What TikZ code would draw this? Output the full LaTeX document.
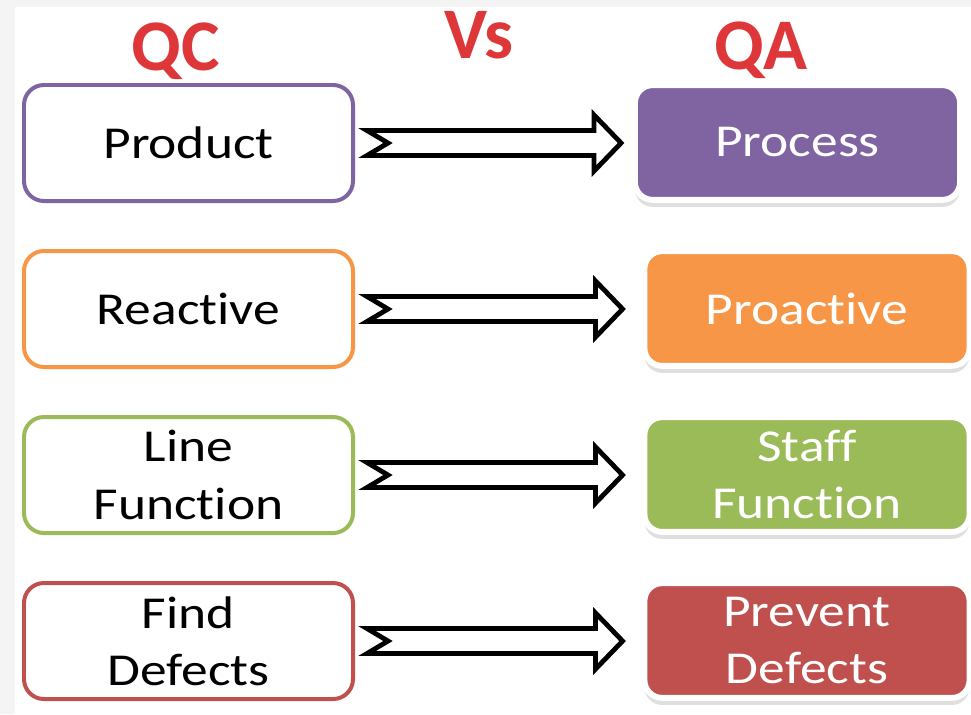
\documentclass[tikz,border=0pt]{standalone}
\usepackage{fontspec}
\usepackage{tikz}
\usetikzlibrary{calc, shadows}
\newfontfamily\boxfont[FakeStretch=1.17, Ligatures={CommonOff, ContextualOff, RequiredOff}]{Carlito}
\newfontfamily\headfont{Carlito}
\definecolor{qcpurple}{RGB}{128,100,162}
\definecolor{qcorange}{RGB}{247,150,70}
\definecolor{qcgreen}{RGB}{155,187,89}
\definecolor{qcred}{RGB}{192,80,77}
\definecolor{headred}{RGB}{222,55,58}
\tikzstyle{heading} = [anchor = base, text = headred, font = \headfont\bfseries\fontsize{62}{70}\selectfont]
\tikzstyle{qcbox} = [rectangle, rounded corners = 17pt, minimum width = 9.87cm, minimum height = 3.48cm, inner sep = 0pt, align = center, line width = 3.4pt, fill = white, text = black, font = \boxfont\fontsize{39}{49}\selectfont]
\tikzstyle{qabox} = [rectangle, rounded corners = 15pt, minimum width = 9.75cm, minimum height = 3.44cm, inner sep = 0pt, align = center, line width = 5pt, draw = white, text = white, drop shadow = {shadow xshift = 0pt, shadow yshift = -6pt, opacity = 0.25}, font = \boxfont\fontsize{39}{49}\selectfont]
\tikzstyle{fatline} = [line width = 4.1pt, line join = miter, draw = black, fill = white]
% hollow arrow with notched tail, from #1 to #2, #3 = gap before #2
\newcommand\hollowarrow[3]{%
    \coordinate (tl) at ($(#1.east)+(12,0)$);
    \coordinate (tp0) at ($(#2.west)+(-#3,0)$);
    \coordinate (tp) at (tl -| tp0);
    \draw[fatline] ($(tl)+(0,-12.5)$) -- ($(tp)+(-27,-12.5)$) -- ($(tp)+(-27,-28)$) -- (tp) -- ($(tp)+(-27,28)$) -- ($(tp)+(-27,12.5)$) -- ($(tl)+(0,12.5)$) -- ($(tl)+(21,0)$) -- cycle;}

\begin{document}
\begin{tikzpicture}[x = 0.03cm, y = -0.03cm, node distance = 4.98cm]
    \useasboundingbox (0,0) rectangle (971,714);
    \fill[gray!9] (0,0) rectangle (971,714);
    \fill[white] (15,7) rectangle (971,714);

    \node(qc)[heading] at (176,70){QC};
    \node(vs)[heading] at (479,58){Vs};
    \node(qa)[heading] at (761,69){QA};

    \node(qc1)[qcbox, draw = qcpurple] at (188.5,143){Product};
    \node(qc2)[qcbox, draw = qcorange, below of = qc1]{Reactive};
    \node(qc3)[qcbox, draw = qcgreen, below of = qc2]{Line\\Function};
    \node(qc4)[qcbox, draw = qcred, below of = qc3]{Find\\Defects};

    \node(qa1)[qabox, fill = qcpurple] at (797.5,142.5){Process};
    \node(qa2)[qabox, fill = qcorange, below of = qa1, xshift = 0.285cm]{Proactive};
    \node(qa3)[qabox, fill = qcgreen, below of = qa2]{Staff\\Function};
    \node(qa4)[qabox, fill = qcred, below of = qa3]{Prevent\\Defects};

    \hollowarrow{qc1}{qa1}{11}
    \hollowarrow{qc2}{qa2}{19}
    \hollowarrow{qc3}{qa3}{19}
    \hollowarrow{qc4}{qa4}{19}
\end{tikzpicture}
\end{document}
